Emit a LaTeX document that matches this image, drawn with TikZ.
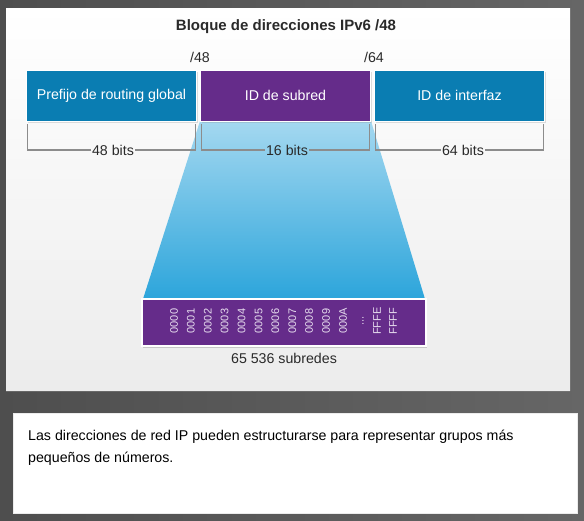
\documentclass[tikz,border=0pt]{standalone}
\usepackage{fontspec}
\setmainfont{Liberation Sans}
\usetikzlibrary{shadows}
\definecolor{bgdark}{HTML}{4E4E4E}
\definecolor{bglight}{HTML}{666666}
\definecolor{ciscoblue}{HTML}{0A7DB2}
\definecolor{ciscopurple}{HTML}{652C8A}
\definecolor{brk}{HTML}{8C8C8C}
\definecolor{tlight}{HTML}{A4D8F0}
\definecolor{tdark}{HTML}{2CA5DB}
\definecolor{txtdark}{HTML}{2A2A2A}
\definecolor{panelbot}{HTML}{ECECEC}
\definecolor{listtxt}{HTML}{E6DCEE}
\tikzset{
  seg/.style={minimum width=170pt, minimum height=51pt, inner sep=0pt, outer sep=0pt,
    draw=white, line width=0.8pt, text=white, font=\fontsize{14.2}{16}\selectfont,
    drop shadow={opacity=0.25, shadow xshift=1pt, shadow yshift=-1.5pt}},
  brline/.style={draw=brk, line width=1.4pt},
  brlabel/.style={inner sep=1pt, text=txtdark, font=\fontsize{14.2}{16}\selectfont},
  plaintxt/.style={text=txtdark, font=\fontsize{14.2}{16}\selectfont},
  hexlabel/.style={rotate=90, text=listtxt, inner sep=0pt, font=\fontsize{11}{12}\selectfont},
}
\begin{document}
\begin{tikzpicture}[x=1pt,y=-1pt]
\useasboundingbox (0,0) rectangle (584,520);
% background
\shade[left color=bgdark, right color=bglight] (0,0) rectangle (584,520);
% main panel
\node[minimum width=564pt, minimum height=382pt, inner sep=0pt, outer sep=0pt,
  top color=white, bottom color=panelbot,
  drop shadow={opacity=0.5, shadow xshift=0pt, shadow yshift=-2pt}] (panel) at (288,199) {};
% title
\node[text=txtdark, font=\bfseries\fontsize{15}{17}\selectfont] (title) at (286,27) {Bloque de direcciones IPv6 /48};
\node[plaintxt] (p48) at (200,57) {/48};
\node[plaintxt] (p64) at (374,57) {/64};
% list box and trapezoid
\node[minimum width=284pt, minimum height=47pt, inner sep=0pt, outer sep=0pt,
  fill=ciscopurple, draw=white, line width=1.6pt,
  drop shadow={opacity=0.35, shadow xshift=1pt, shadow yshift=-2pt}] (list) at (284,322.5) {};
\coordinate (ttl) at (200,121);
\coordinate (ttr) at (371,121);
\shade[top color=tlight, bottom color=tdark] (ttl) -- (ttr) -- ([xshift=-1pt]list.north east) -- ([xshift=1pt]list.north west) -- cycle;
\node[minimum width=284pt, minimum height=47pt, inner sep=0pt, outer sep=0pt,
  fill=ciscopurple, draw=white, line width=1.6pt] (list2) at (284,322.5) {};
% segments
\node[seg, fill=ciscoblue] (pre) at (111.5,95.5) {Prefijo de routing global};
\node[seg, fill=ciscopurple] (sub) at (285.5,95.5) {ID de subred};
\node[seg, fill=ciscoblue] (ifc) at (459.5,95.5) {ID de interfaz};
% brackets
\node[brlabel] (b1) at (113,150) {48 bits};
\node[brlabel] (b2) at (287,150) {16 bits};
\node[brlabel] (b3) at (463,150) {64 bits};
\draw[brline] ([xshift=1pt,yshift=-3pt]pre.south west) |- (b1.west);
\draw[brline] ([xshift=-1pt,yshift=-3pt]pre.south east) |- (b1.east);
\draw[brline] ([xshift=1pt,yshift=-3pt]sub.south west) |- (b2.west);
\draw[brline] ([xshift=-1pt,yshift=-3pt]sub.south east) |- (b2.east);
\draw[brline] ([xshift=1pt,yshift=-3pt]ifc.south west) |- (b3.west);
\draw[brline] ([xshift=-1pt,yshift=-3pt]ifc.south east) |- (b3.east);
% hex labels
\foreach \t [count=\i from 0] in {0000,0001,0002,0003,0004,0005,0006,0007,0008,0009,000A} {
  \node[hexlabel] (h\i) at (174+16.9*\i,321) {\t};
}
\node[hexlabel] (hdots) at (363,321) {...};
\node[hexlabel] (hfe) at (377,321) {FFFE};
\node[hexlabel] (hff) at (393,321) {FFFF};
\node[plaintxt] (count) at (284,358) {65 536 subredes};
% bottom text box
\node[minimum width=564pt, minimum height=100pt, inner sep=0pt, outer sep=0pt,
  fill=white, draw=panelbot, line width=0.6pt] (note) at (295,463) {};
\node[anchor=north west, align=left, inner sep=0pt, text=black,
  font=\fontsize{14.2}{22}\selectfont] (notetext) at (28,430)
  {Las direcciones de red IP pueden estructurarse para representar grupos más\\pequeños de números.};
\end{tikzpicture}
\end{document}
